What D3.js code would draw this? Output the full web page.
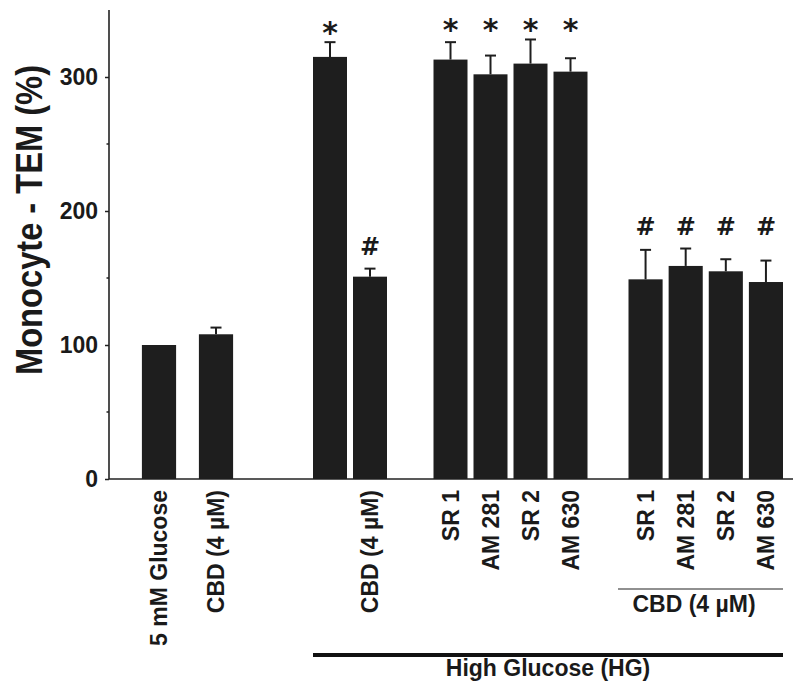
<!DOCTYPE html>
<html lang="en">
<head>
<meta charset="utf-8">
<title>Monocyte TEM</title>
<script src="https://cdn.jsdelivr.net/npm/d3@7"></script>
<style>
    body { margin: 0; background: #fff; }
    svg { display: block; }
    text { font-family: "Liberation Sans", Arial, sans-serif; fill: #1a1a1a; }
    .lbl { font-weight: bold; font-size: 23px; }
    .tick text { font-weight: bold; font-size: 23px; }
</style>
</head>
<body>
<script>
    // values
    var labels = ['5 mM Glucose', 'CBD (4 \u00b5M)', '', 'CBD (4 \u00b5M)',
        'SR 1', 'AM 281', 'SR 2', 'AM 630', 'SR 1', 'AM 281', 'SR 2', 'AM 630'];
    var means = [100, 108, 315, 151, 313, 302, 310, 304, 149, 159, 155, 147];
    var sems = [0, 5, 11, 6, 13, 14, 18, 10, 22, 13, 9, 16];
    var marks = ['', '', '*', '#', '*', '*', '*', '*', '#', '#', '#', '#'];
    var groupOf = [0, 0, 1, 1, 2, 2, 2, 2, 3, 3, 3, 3];
    var yTicks = [0, 100, 200, 300];
    var yMinor = [50, 150, 250];

    var width = 800, height = 689;
    var axisX = 109, axisY = 479, axisTop = 10, axisRight = 793;
    var barColor = '#1e1e1e';

    var svg = d3.select('body').append('svg')
        .attr('width', width)
        .attr('height', height);

    var y = d3.scaleLinear().domain([0, 350]).range([axisY, axisTop]);

    // one band scale per group of bars
    var groupRanges = [[130.5, 244.5], [310, 390], [430.5, 590.5], [625.5, 786]];
    var groupPad = [[0.4, 0.2], [0.15, 0.075], [0.15, 0.075], [0.15, 0.075]];
    var bands = groupRanges.map(function(r, g) {
        var ids = d3.range(labels.length).filter(function(i) { return groupOf[i] === g; });
        return d3.scaleBand().domain(ids).range(r)
            .paddingInner(groupPad[g][0]).paddingOuter(groupPad[g][1]);
    });
    function xLeft(i) { return bands[groupOf[i]](i); }
    function bw(i) { return bands[groupOf[i]].bandwidth(); }
    function xMid(i) { return xLeft(i) + bw(i) / 2; }

    var data = means.map(function(m, i) {
        return {i: i, mean: m, sem: sems[i], label: labels[i], mark: marks[i], g: groupOf[i]};
    });

    // y axis
    var yAxis = d3.axisLeft(y).tickValues(yTicks).tickSize(4).tickPadding(7).tickFormat(d3.format('d'));
    var ga = svg.append('g').attr('transform', 'translate(' + axisX + ',0)').call(yAxis);
    ga.select('.domain').remove();
    ga.selectAll('.tick line').attr('stroke', '#222').attr('stroke-width', 1.5);
    svg.append('g').attr('transform', 'translate(' + axisX + ',0)')
        .selectAll('line').data(yMinor).enter().append('line')
        .attr('x1', -2.5).attr('x2', 0)
        .attr('y1', function(d) { return y(d); }).attr('y2', function(d) { return y(d); })
        .attr('stroke', '#222').attr('stroke-width', 1.5);

    svg.append('line')
        .attr('x1', axisX).attr('x2', axisX)
        .attr('y1', y(350)).attr('y2', axisY)
        .attr('stroke', '#222').attr('stroke-width', 1.6);
    svg.append('line')
        .attr('x1', axisX).attr('x2', axisRight)
        .attr('y1', axisY).attr('y2', axisY)
        .attr('stroke', '#222').attr('stroke-width', 1.6);

    // y title
    svg.append('text')
        .attr('transform', 'translate(42,220) rotate(-90)')
        .attr('text-anchor', 'middle')
        .attr('textLength', 310)
        .attr('lengthAdjust', 'spacingAndGlyphs')
        .style('font-weight', 'bold')
        .style('font-size', '36px')
        .text('Monocyte - TEM (%)');

    // bars
    svg.append('g').selectAll('rect').data(data).enter().append('rect')
        .attr('x', function(d) { return xLeft(d.i); })
        .attr('width', function(d) { return bw(d.i); })
        .attr('y', function(d) { return y(d.mean); })
        .attr('height', function(d) { return axisY - y(d.mean); })
        .attr('fill', barColor);

    // error bars (upper only)
    var eb = svg.append('g').selectAll('g').data(data.filter(function(d) { return d.sem > 0; }))
        .enter().append('g');
    eb.append('line')
        .attr('x1', function(d) { return xMid(d.i); }).attr('x2', function(d) { return xMid(d.i); })
        .attr('y1', function(d) { return y(d.mean); }).attr('y2', function(d) { return y(d.mean + d.sem); })
        .attr('stroke', barColor).attr('stroke-width', 2);
    eb.append('line')
        .attr('x1', function(d) { return xMid(d.i) - 5.5; }).attr('x2', function(d) { return xMid(d.i) + 5.5; })
        .attr('y1', function(d) { return y(d.mean + d.sem); }).attr('y2', function(d) { return y(d.mean + d.sem); })
        .attr('stroke', barColor).attr('stroke-width', 2);

    // significance marks, aligned per group and mark type
    function markY(d) {
        var top = d3.max(data.filter(function(e) { return e.g === d.g && e.mark === d.mark; }),
            function(e) { return e.mean + e.sem; });
        return y(top) - (d.mark === '*' ? 18 : 22);
    }
    svg.append('g').selectAll('text').data(data.filter(function(d) { return d.mark; }))
        .enter().append('text')
        .attr('x', function(d) { return xMid(d.i); })
        .attr('y', function(d) { return markY(d); })
        .attr('text-anchor', 'middle')
        .attr('dy', function(d) { return d.mark === '*' ? '0.62em' : '0.36em'; })
        .style('font-family', '"DejaVu Sans", sans-serif')
        .style('font-weight', 'bold')
        .style('font-size', function(d) { return d.mark === '*' ? '30px' : '24px'; })
        .text(function(d) { return d.mark; });

    // rotated category labels
    svg.append('g').selectAll('text').data(data.filter(function(d) { return d.label; }))
        .enter().append('text')
        .attr('class', 'lbl')
        .attr('transform', function(d) { return 'translate(' + xMid(d.i) + ',490) rotate(-90)'; })
        .attr('text-anchor', 'end')
        .attr('dy', '0.36em')
        .text(function(d) { return d.label; });

    // bracket for CBD + antagonists
    svg.append('line')
        .attr('x1', 618).attr('x2', 783).attr('y1', 589).attr('y2', 589)
        .attr('stroke', '#222').attr('stroke-width', 1.2);
    svg.append('text').attr('class', 'lbl')
        .attr('x', 694).attr('y', 612).attr('text-anchor', 'middle')
        .text('CBD (4 \u00b5M)');

    // high glucose bracket
    svg.append('line')
        .attr('x1', 313).attr('x2', 783).attr('y1', 655).attr('y2', 655)
        .attr('stroke', '#111').attr('stroke-width', 4);
    svg.append('text').attr('class', 'lbl')
        .attr('x', 548).attr('y', 676).attr('text-anchor', 'middle')
        .text('High Glucose (HG)');
</script>
</body>
</html>
